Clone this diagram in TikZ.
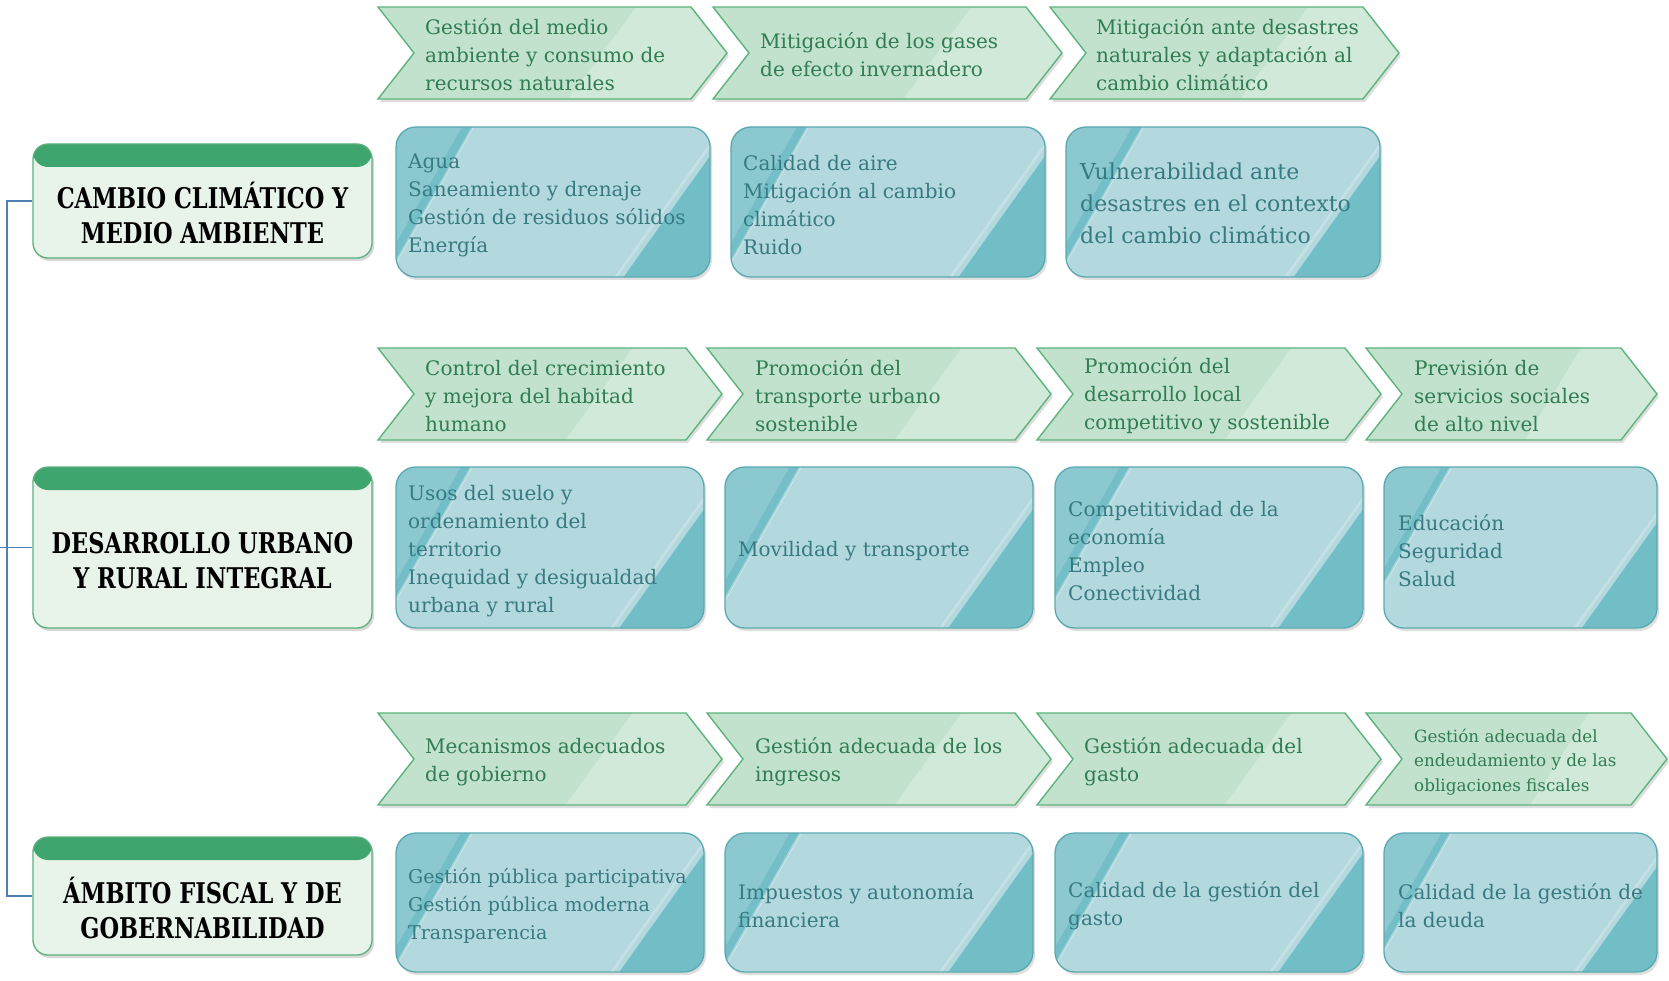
\documentclass[tikz,border=0pt]{standalone}
\usepackage{fontspec}
\setmainfont{DejaVu Serif}
\newfontfamily\hdrfont[FakeStretch=0.79]{DejaVu Serif}
\usetikzlibrary{shadows}
\definecolor{chevA}{HTML}{C2E2CD}
\definecolor{chevB}{HTML}{D0E9D8}
\definecolor{chevLine}{HTML}{5CB37D}
\definecolor{chevText}{HTML}{2F7D50}
\definecolor{boxA}{HTML}{B3D8DE}
\definecolor{boxL}{HTML}{8CC8CF}
\definecolor{boxS}{HTML}{74BFC7}
\definecolor{boxT}{HTML}{72BEC7}
\definecolor{boxLine}{HTML}{5AA9B1}
\definecolor{boxText}{HTML}{367B81}
\definecolor{hdrBody}{HTML}{E8F3EA}
\definecolor{hdrBand}{HTML}{3EA56E}
\definecolor{hdrLine}{HTML}{5BB07C}
\definecolor{connC}{HTML}{4F7FB5}
\newcommand\mkchev[4]{%
  \pgfmathsetmacro\cxr{#1+#3}\pgfmathsetmacro\cxm{#1+#3-36}\pgfmathsetmacro\cxn{#1+36}%
  \pgfmathsetmacro\cyb{#2+#4}\pgfmathsetmacro\cyc{#2+#4/2}%
  \pgfmathsetmacro\cla{#1+0.74*#3}\pgfmathsetmacro\clb{#1+0.545*#3}%
  \fill[black!13,shift={(2,3)}] (#1,#2) -- (\cxm,#2) -- (\cxr,\cyc) -- (\cxm,\cyb) -- (#1,\cyb) -- (\cxn,\cyc) -- cycle;
  \begin{scope}
    \clip (#1,#2) -- (\cxm,#2) -- (\cxr,\cyc) -- (\cxm,\cyb) -- (#1,\cyb) -- (\cxn,\cyc) -- cycle;
    \fill[chevA] (#1,#2) rectangle (\cxr,\cyb);
    \fill[chevB] (\cla,#2) -- (\cxr,#2) -- (\cxr,\cyb) -- (\clb,\cyb) -- cycle;
  \end{scope}
  \draw[chevLine,line width=1.4pt,line join=miter] (#1,#2) -- (\cxm,#2) -- (\cxr,\cyc) -- (\cxm,\cyb) -- (#1,\cyb) -- (\cxn,\cyc) -- cycle;
}
\newcommand\mkbox[4]{%
  \pgfmathsetmacro\bxr{#1+#3}\pgfmathsetmacro\byb{#2+#4}%
  \pgfmathsetmacro\bsa{#1+0.21*#3}\pgfmathsetmacro\bsb{#2+0.37*#3}%
  \pgfmathsetmacro\bsc{#1+0.245*#3}\pgfmathsetmacro\bsd{#2+0.43*#3}%
  \pgfmathsetmacro\bta{\bxr-0.275*#3}\pgfmathsetmacro\btb{\byb-0.385*#3}%
  \pgfmathsetmacro\btc{\bxr-0.30*#3}\pgfmathsetmacro\btd{\byb-0.42*#3}%
  \fill[black!13,rounded corners=20pt,shift={(2,3)}] (#1,#2) rectangle (\bxr,\byb);
  \begin{scope}
    \clip[rounded corners=20pt] (#1,#2) rectangle (\bxr,\byb);
    \fill[boxA] (#1,#2) rectangle (\bxr,\byb);
    \fill[boxS] (#1,#2) -- (\bsc,#2) -- (#1,\bsd) -- cycle;
    \fill[boxL] (#1,#2) -- (\bsa,#2) -- (#1,\bsb) -- cycle;
    \draw[white,opacity=.3,line width=2.5pt] (\bsc,#2) -- (#1,\bsd);
    \draw[white,opacity=.25,line width=2.5pt] (\bxr,\btd) -- (\btc,\byb);
    \fill[boxT] (\bxr,\btb) -- (\bta,\byb) -- (\bxr,\byb) -- cycle;
  \end{scope}
  \draw[boxLine,line width=1.3pt,rounded corners=20pt] (#1,#2) rectangle (\bxr,\byb);
}
\begin{document}
\begin{tikzpicture}[x=1pt,y=-1pt,
  ctext/.style={anchor=west,align=left,inner sep=0pt,text=chevText,font=\fontsize{20}{28}\selectfont},
  csmall/.style={ctext,font=\fontsize{16.8}{24.5}\selectfont},
  btext/.style={anchor=west,align=left,inner sep=0pt,text=boxText,font=\fontsize{20}{28}\selectfont},
  bbig/.style={btext,font=\fontsize{22}{32}\selectfont},
  hdr/.style={draw=hdrLine,line width=1.3pt,fill=hdrBody,rounded corners=15pt,
    minimum width=339pt,inner sep=0pt,
    drop shadow={shadow xshift=2pt,shadow yshift=-3pt,fill=black!30,opacity=.5},
    path picture={\fill[hdrBand] (path picture bounding box.north west) rectangle ([yshift=-23pt]path picture bounding box.north east);}},
  htext/.style={align=center,inner sep=0pt,font=\fontsize{28.5}{35}\hdrfont\bfseries},
  conn/.style={draw=connC,line width=1.3pt}]
\useasboundingbox (0,0) rectangle (1669,981);
\fill[white] (0,0) rectangle (1669,981);

% headers
\node[hdr,minimum height=114pt] (h1) at (202.5,201) {};
\node[htext] (h1t) at ([yshift=-11.5pt]h1.center) {CAMBIO CLIMÁTICO Y\\MEDIO AMBIENTE};
\node[hdr,minimum height=161pt] (h2) at (202.5,547.5) {};
\node[htext] (h2t) at ([yshift=-13pt]h2.center) {DESARROLLO URBANO\\Y RURAL INTEGRAL};
\node[hdr,minimum height=118pt] (h3) at (202.5,896) {};
\node[htext] (h3t) at ([yshift=-12pt]h3.center) {ÁMBITO FISCAL Y DE\\GOBERNABILIDAD};

% connectors
\coordinate (spine) at (7,0);
\coordinate (edge) at (0,547.5);
\draw[conn] (h1.west) -- (h1.west -| spine) |- (h3.west);
\draw[conn] (edge) -- (h2.west);

% row 1
\mkchev{378}{7}{349}{92}
\mkchev{713}{7}{349}{92}
\mkchev{1050}{7}{349}{92}
\node[ctext] (c11) at (425,55) {Gestión del medio\\ambiente y consumo de\\recursos naturales};
\node[ctext] (c12) at (760,55) {Mitigación de los gases\\de efecto invernadero};
\node[ctext] (c13) at (1096,55) {Mitigación ante desastres\\naturales y adaptación al\\cambio climático};
\mkbox{396}{127}{314}{150}
\mkbox{731}{127}{314}{150}
\mkbox{1066}{127}{314}{150}
\node[btext] (b11) at (408,205) {Agua\\Saneamiento y drenaje\\Gestión de residuos sólidos\\Energía};
\node[btext] (b12) at (743,205) {Calidad de aire\\Mitigación al cambio\\climático\\Ruido};
\node[bbig] (b13) at (1080,203) {Vulnerabilidad ante\\desastres en el contexto\\del cambio climático};

% row 2
\mkchev{378}{348}{344}{92}
\mkchev{707}{348}{344}{92}
\mkchev{1037}{348}{344}{92}
\mkchev{1366}{348}{291}{92}
\node[ctext] (c21) at (425,396) {Control del crecimiento\\y mejora del habitad\\humano};
\node[ctext] (c22) at (755,396) {Promoción del\\transporte urbano\\sostenible};
\node[ctext] (c23) at (1084,396) {Promoción del\\desarrollo local\\competitivo y sostenible};
\node[ctext] (c24) at (1414,396) {Previsión de\\servicios sociales\\de alto nivel};
\mkbox{396}{467}{308}{161}
\mkbox{725}{467}{308}{161}
\mkbox{1055}{467}{308}{161}
\mkbox{1384}{467}{273}{161}
\node[btext] (b21) at (408,551) {Usos del suelo y\\ordenamiento del\\territorio\\Inequidad y desigualdad\\urbana y rural};
\node[btext] (b22) at (738,551) {Movilidad y transporte};
\node[btext] (b23) at (1068,551) {Competitividad de la\\economía\\Empleo\\Conectividad};
\node[btext] (b24) at (1398,551) {Educación\\Seguridad\\Salud};

% row 3
\mkchev{378}{713}{344}{92}
\mkchev{707}{713}{344}{92}
\mkchev{1037}{713}{344}{92}
\mkchev{1366}{713}{301}{92}
\node[ctext] (c31) at (425,762) {Mecanismos adecuados\\de gobierno};
\node[ctext] (c32) at (755,762) {Gestión adecuada de los\\ingresos};
\node[ctext] (c33) at (1084,762) {Gestión adecuada del\\gasto};
\node[csmall] (c34) at (1414,762) {Gestión adecuada del\\endeudamiento y de las\\obligaciones fiscales};
\mkbox{396}{833}{308}{139}
\mkbox{725}{833}{308}{139}
\mkbox{1055}{833}{308}{139}
\mkbox{1384}{833}{273}{139}
\node[btext,font=\fontsize{19}{28}\selectfont] (b31) at (408,906) {Gestión pública participativa\\Gestión pública moderna\\Transparencia};
\node[btext] (b32) at (738,906) {Impuestos y autonomía\\financiera};
\node[btext] (b33) at (1068,906) {Calidad de la gestión del\\gasto};
\node[btext] (b34) at (1398,906) {Calidad de la gestión de\\la deuda};
\end{tikzpicture}
\end{document}
